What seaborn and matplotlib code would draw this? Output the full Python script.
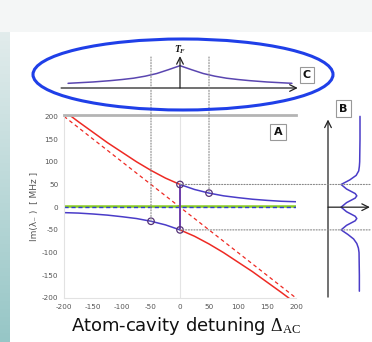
import matplotlib
matplotlib.use("Agg")
import numpy as np
import pandas as pd
import matplotlib.pyplot as plt
import seaborn as sns
from matplotlib.patches import Ellipse, Rectangle, ConnectionPatch

# ---- eigenfrequency branches vs atom-cavity detuning (MHz) ----
det_neg = [-200, -175, -150, -125, -100, -75, -50, -25, 0]
det_pos = [0, 25, 50, 75, 100, 125, 150, 175, 200]
upper_red = [212, 188, 165, 142, 121, 100, 81, 64, 50]
lower_red = [-50, -64, -81, -100, -121, -142, -165, -188, -212]
lower_blue = [-12, -13, -15, -17.5, -21, -25, -31, -39, -50]
upper_blue = [50, 39, 31, 25, 21, 17.5, 15, 13, 12]
bare_det = [-200, 200]
bare_cavity = [200, -200]
atom_level = [2, 2]
zero_level = [0, 0]
marker_det = [-50, 0, 0, 50]
marker_val = [-31, -50, 50, 31]
ticks = [-200, -150, -100, -50, 0, 50, 100, 150, 200]

# ---- transmission peak vs detuning (panel C, normalised) ----
c_det = [-193, -150, -120, -100, -80, -60, -40, -20, 0,
         20, 40, 60, 80, 100, 120, 150, 193]
c_val = [0.21, 0.27, 0.33, 0.38, 0.44, 0.53, 0.65, 0.82, 1.0,
         0.82, 0.65, 0.53, 0.44, 0.38, 0.33, 0.27, 0.21]

# ---- spectrum vs frequency (panel B, normalised distance from axis) ----
b_freq = [200, 150, 100, 90, 80, 70, 60, 50, 40, 30, 25, 20, 10, 0,
          -10, -20, -25, -30, -40, -50, -60, -70, -80, -90, -100, -150, -185]
b_val = [1.0, 1.0, 0.99, 0.98, 0.96, 0.88, 0.68, 0.41, 0.58, 0.85, 0.9, 0.85,
         0.58, 0.41, 0.58, 0.85, 0.9, 0.85, 0.58, 0.41, 0.62, 0.8, 0.9, 0.95,
         0.97, 0.98, 0.98]

RED = "#ee2a24"
BLUE = "#4a3cc8"
GREEN = "#88cc22"

sns.set_theme(style="white")
plt.rcParams["font.family"] = ["DejaVu Sans"]
plt.rcParams["axes.unicode_minus"] = False
plt.rcParams["mathtext.fontset"] = "custom"
plt.rcParams["mathtext.rm"] = "Liberation Serif"
plt.rcParams["mathtext.it"] = "Liberation Serif:italic:bold"

W, H = 372, 342
fig = plt.figure(figsize=(W / 100, H / 100), dpi=100, facecolor="white")


def px_rect(x0, y0, x1, y1):
    return [x0 / W, 1 - y1 / H, (x1 - x0) / W, (y1 - y0) / H]


# ---- slide background ----
bg = fig.add_axes([0, 0, 1, 1], zorder=-10)
bg.set_xlim(0, W)
bg.set_ylim(H, 0)
bg.axis("off")
bg.add_patch(Rectangle((0, 0), W, 32, color="#f4f6f6", lw=0))
grad = np.linspace(0, 1, 256)[:, None]
cmap = matplotlib.colors.LinearSegmentedColormap.from_list("strip", ["#eaf0f0", "#96c6c6"])
bg.imshow(grad, cmap=cmap, extent=(0, 10, H, 0), aspect="auto")

# ---- main panel A ----
ax = fig.add_axes(px_rect(64, 115, 296, 298))
ax.set_xlim(-200, 200)
ax.set_ylim(-200, 203)
ax.axvline(0, color="#e4e4e4", lw=0.8, zorder=0)

sns.lineplot(x=bare_det, y=bare_cavity, ax=ax, color=RED, lw=0.9,
             linestyle=(0, (3, 2.5)), estimator=None, sort=False)
sns.lineplot(x=bare_det, y=atom_level, ax=ax, color=GREEN, lw=1.8,
             estimator=None, sort=False)
sns.lineplot(x=bare_det, y=zero_level, ax=ax, color="#3040cc", lw=1.0,
             linestyle=(0, (3, 2)), estimator=None, sort=False)
sns.lineplot(x=det_neg + det_pos, y=upper_red + lower_red, ax=ax, color=RED,
             lw=1.1, estimator=None, sort=False)
sns.lineplot(x=det_neg + det_pos, y=lower_blue + upper_blue, ax=ax, color=BLUE,
             lw=1.1, estimator=None, sort=False)
sns.scatterplot(x=marker_det, y=marker_val, ax=ax, s=22, facecolor="none",
                edgecolor="#553377", linewidth=0.9, zorder=5)

ax.set_xticks(ticks)
ax.set_yticks(ticks)
ax.tick_params(length=0, labelsize=5.2, labelcolor="#555555", pad=4)
for side in ("left", "bottom"):
    ax.spines[side].set_color("#e2e2e2")
    ax.spines[side].set_linewidth(0.8)
ax.spines["right"].set_visible(False)
ax.spines["top"].set_color("#b4b4b4")
ax.spines["top"].set_linewidth(2.0)
ax.set_xlabel("")
ax.set_ylabel("Im(λ₋ )  [ MHz ]", fontsize=6.5, color="#555555", labelpad=2)

# ---- panel C: transmission vs detuning ----
axc = fig.add_axes(px_rect(64, 40, 296, 100))
axc.set_xlim(-200, 200)
axc.set_ylim(-0.538, 2.152)
axc.axis("off")
sns.lineplot(x=c_det, y=c_val, ax=axc, color="#5a46b0", lw=1.1,
             estimator=None, sort=False)
axc.annotate("", xy=(203, 0), xytext=(-205, 0), annotation_clip=False,
             arrowprops=dict(arrowstyle="->", color="#222222", lw=0.9,
                             shrinkA=0, shrinkB=0))
axc.annotate("", xy=(0, 1.43), xytext=(0, 0), annotation_clip=False,
             arrowprops=dict(arrowstyle="->", color="#222222", lw=0.9,
                             shrinkA=0, shrinkB=0))
axc.text(0, 1.72, r"$T_F$", ha="center", va="center", fontsize=7, color="#111111")

# ---- panel B: spectrum vs frequency ----
axb = fig.add_axes(px_rect(328, 115, 372, 298))
axb.set_xlim(0, 1.375)
axb.set_ylim(-200, 203)
axb.axis("off")
sns.lineplot(x=b_val, y=b_freq, ax=axb, color=BLUE, lw=1.1,
             estimator=None, sort=False, orient="y")
axb.annotate("", xy=(0, 193), xytext=(0, -198), annotation_clip=False,
             arrowprops=dict(arrowstyle="->", color="#222222", lw=0.9,
                             shrinkA=0, shrinkB=0))
axb.annotate("", xy=(1.31, 0), xytext=(0, 0), annotation_clip=False,
             arrowprops=dict(arrowstyle="->", color="#222222", lw=0.9,
                             shrinkA=0, shrinkB=0))

# ---- dotted guides linking the panels ----
for d, v in ((-50, -31), (50, 31)):
    fig.add_artist(ConnectionPatch(xyA=(d, 1.39), coordsA=axc.transData,
                                   xyB=(d, v), coordsB=ax.transData,
                                   color="#888888", lw=0.8, linestyle=(0, (1, 1.5))))
for v in (50, -50):
    fig.add_artist(ConnectionPatch(xyA=(0, v), coordsA=ax.transData,
                                   xyB=(1.36, v), coordsB=axb.transData,
                                   color="#888888", lw=0.8, linestyle=(0, (1, 1.5))))

# ---- panel letters ----
box = dict(boxstyle="square,pad=0.3", fc="white", ec="#999999", lw=0.8)
for lbl, (x, y) in {"A": (278, 132), "C": (307, 75), "B": (343.5, 108.5)}.items():
    fig.text(x / W, 1 - y / H, lbl, ha="center", va="center", fontsize=8,
             fontweight="bold", color="#111111", bbox=box)

# ---- highlight ellipse around panel C ----
fig.add_artist(Ellipse((183 / W, 1 - 74.5 / H), 300 / W, 71 / H, fill=False,
                       ec="#1f3fe8", lw=2.2, transform=fig.transFigure, zorder=20))

# ---- axis title ----
fig.text(186 / W, 1 - 326 / H, r"Atom-cavity detuning $\Delta_{\mathrm{AC}}$",
         ha="center", va="center", fontsize=13, color="#111111")

fig.savefig("out.png", dpi=100, facecolor=fig.get_facecolor())
